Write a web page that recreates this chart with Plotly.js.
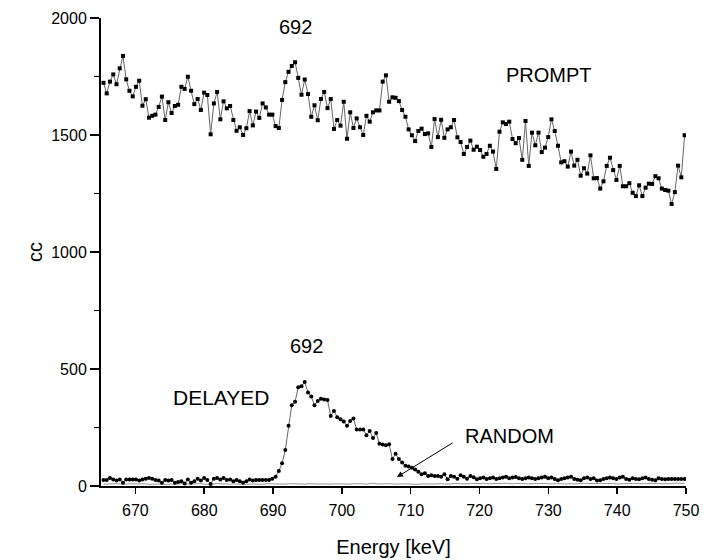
<!DOCTYPE html>
<html>
<head>
<meta charset="utf-8">
<script src="https://cdn.plot.ly/plotly-3.0.1.min.js"></script>
<style>html,body{margin:0;padding:0;background:#fff;}#chart{width:711px;height:560px;}</style>
</head>
<body>
<div id="chart"></div>
<script>
const energy = [
665.36,665.83,666.30,666.78,667.25,667.72,668.19,668.66,669.13,669.61,
670.08,670.55,671.02,671.50,671.97,672.44,672.91,673.38,673.85,674.33,
674.79,675.26,675.73,676.21,676.68,677.15,677.62,678.09,678.56,679.04,
679.51,679.98,680.45,680.93,681.40,681.87,682.34,682.81,683.28,683.76,
684.23,684.70,685.17,685.65,686.12,686.59,687.06,687.53,688.00,688.48,
688.95,689.42,689.89,690.37,690.84,691.31,691.78,692.25,692.72,693.20,
693.66,694.13,694.60,695.08,695.55,696.02,696.49,696.96,697.43,697.91,
698.38,698.85,699.32,699.80,700.27,700.74,701.21,701.68,702.15,702.63,
703.10,703.57,704.04,704.52,704.99,705.46,705.93,706.40,706.87,707.35,
707.81,708.28,708.75,709.23,709.70,710.17,710.64,711.11,711.58,712.06,
712.53,713.00,713.47,713.95,714.42,714.89,715.36,715.83,716.30,716.78,
717.25,717.72,718.19,718.67,719.14,719.61,720.08,720.55,721.02,721.50,
721.96,722.43,722.90,723.38,723.85,724.32,724.79,725.26,725.73,726.21,
726.68,727.15,727.62,728.10,728.57,729.04,729.51,729.98,730.45,730.93,
731.40,731.87,732.34,732.82,733.29,733.76,734.23,734.70,735.17,735.65,
736.12,736.59,737.06,737.54,738.01,738.48,738.95,739.42,739.89,740.37,
740.83,741.30,741.77,742.25,742.72,743.19,743.66,744.13,744.60,745.08,
745.55,746.02,746.49,746.97,747.44,747.91,748.38,748.85,749.32,749.80
];

const prompt = [
1723,1678,1728,1759,1717,1785,1838,1738,1689,1665,
1706,1732,1625,1653,1574,1582,1587,1620,1664,1564,
1640,1594,1624,1629,1706,1697,1749,1689,1632,1654,
1607,1681,1671,1503,1635,1684,1567,1644,1614,1624,
1564,1518,1533,1500,1529,1602,1541,1600,1573,1635,
1618,1587,1587,1538,1530,1650,1726,1770,1795,1811,
1744,1672,1737,1675,1578,1627,1563,1654,1684,1615,
1654,1526,1564,1540,1642,1484,1597,1530,1571,1533,
1500,1582,1557,1597,1605,1605,1728,1755,1642,1661,
1659,1645,1607,1578,1524,1499,1474,1517,1527,1504,
1507,1449,1568,1491,1565,1488,1524,1533,1564,1490,
1470,1419,1449,1476,1437,1450,1436,1407,1419,1454,
1429,1355,1514,1554,1547,1557,1483,1465,1487,1394,
1560,1368,1510,1456,1510,1427,1446,1491,1567,1517,
1454,1383,1388,1365,1429,1369,1394,1326,1358,1335,
1413,1315,1316,1271,1302,1368,1403,1350,1308,1368,
1281,1281,1294,1253,1239,1285,1239,1275,1292,1291,
1324,1315,1271,1265,1262,1205,1256,1369,1319,1499
];

const delayed = [
26,26,34,28,23,28,14,28,28,28,
28,23,28,31,34,31,26,23,14,26,
23,26,14,17,20,11,28,14,20,31,
23,34,26,9,31,34,28,34,26,28,
20,26,20,14,20,28,23,26,26,26,
26,26,31,40,64,97,154,258,345,360,
422,426,444,400,382,345,363,373,370,367,
299,321,294,285,276,258,278,288,241,241,
241,217,235,205,226,181,177,174,178,115,
138,115,100,87,83,78,71,61,50,54,
43,46,43,43,40,50,29,43,40,31,
46,40,31,43,37,29,33,36,30,33,
36,30,33,36,39,33,36,38,33,30,
33,36,33,30,33,36,39,33,36,30,
25,30,33,36,39,30,27,25,33,36,
30,33,23,25,30,33,36,33,30,36,
39,30,27,33,30,29,33,36,30,27,
25,33,30,29,30,30,30,30,30,30
];

const random = [
8,9,7,8,10,9,7,8,9,8, 7,9,10,8,7,8,9,10,8,7,
9,8,7,9,10,8,9,7,8,9, 10,8,7,8,9,11,9,8,7,8,
9,8,10,9,7,8,9,8,7,9, 8,10,9,8,7,9,8,10,9,8,
7,9,8,10,9,11,9,8,9,7, 8,9,10,8,9,8,7,9,10,8,
9,8,10,12,9,8,9,10,8,9, 8,7,9,10,8,9,7,8,10,9,
8,9,7,8,10,9,8,9,11,9, 10,9,8,10,11,9,10,12,10,9,
11,10,9,11,12,10,9,11,10,12, 11,9,10,11,12,10,11,9,10,11,
12,10,9,11,10,9,11,10,12,11, 10,11,9,10,11,12,10,11,9,10,
11,10,12,11,10,9,11,10,11,12, 10,11,10,9,11,10,12,11,10,11
];

const labels = {
  promptPeak: '692', prompt: 'PROMPT', delayedPeak: '692', delayed: 'DELAYED', random: 'RANDOM'
};

const FONT = 'Liberation Sans, Arial, sans-serif';

const traces = [
  {x: energy, y: random, type: 'scatter', mode: 'lines',
   line: {color: '#999999', width: 1}, hoverinfo: 'skip'},
  {x: energy, y: prompt, type: 'scatter', mode: 'lines+markers',
   line: {color: '#666666', width: 1},
   marker: {symbol: 'square', size: 4, color: '#000'}},
  {x: energy, y: delayed, type: 'scatter', mode: 'lines+markers',
   line: {color: '#666666', width: 1},
   marker: {symbol: 'circle', size: 4, color: '#000'}}
];

const layout = {
  width: 711, height: 560,
  margin: {l: 101, r: 25, t: 18, b: 74},
  paper_bgcolor: '#fff', plot_bgcolor: '#fff',
  showlegend: false,
  font: {family: FONT, color: '#000', size: 16},
  xaxis: {
    range: [665, 750], tickvals: [670,680,690,700,710,720,730,740,750],
    ticks: 'outside', ticklen: 6, tickwidth: 1.5, tickcolor: '#000',
    ticklabelstandoff: 3,
    showline: true, linecolor: '#000', linewidth: 2,
    showgrid: false, zeroline: false,
    tickfont: {family: FONT, size: 16, color: '#000'},
    title: {text: 'Energy [keV]', font: {family: FONT, size: 20, color: '#000'}, standoff: 22}
  },
  yaxis: {
    range: [0, 2000], tickvals: [0,500,1000,1500,2000],
    ticks: 'outside', ticklen: 9, tickwidth: 1.5, tickcolor: '#000',
    minor: {dtick: 250, ticks: 'outside', ticklen: 5, tickwidth: 1.5, tickcolor: '#000', showgrid: false},
    showline: true, linecolor: '#000', linewidth: 2,
    showgrid: false, zeroline: false,
    tickfont: {family: FONT, size: 16, color: '#000'},
    title: {text: 'cc', font: {family: FONT, size: 20, color: '#000'}, standoff: 3}
  },
  annotations: [
    {x: 693.2, y: 1961, xref: 'x', yref: 'y', text: labels.promptPeak, showarrow: false, font: {size: 20}},
    {x: 730.1, y: 1756, xref: 'x', yref: 'y', text: labels.prompt, showarrow: false, font: {size: 20}},
    {x: 694.9, y: 598, xref: 'x', yref: 'y', text: labels.delayedPeak, showarrow: false, font: {size: 20}},
    {x: 682.5, y: 380, xref: 'x', yref: 'y', text: labels.delayed, showarrow: false, font: {size: 21}},
    {x: 724.4, y: 214, xref: 'x', yref: 'y', text: labels.random, showarrow: false, font: {size: 20}},
    {x: 708.0, y: 38, ax: 716.3, ay: 188, xref: 'x', yref: 'y', axref: 'x', ayref: 'y',
     text: '', showarrow: true, arrowhead: 2, arrowsize: 1.2, arrowwidth: 1, arrowcolor: '#000'}
  ]
};

Plotly.newPlot('chart', traces, layout, {displayModeBar: false, staticPlot: true});
</script>
</body>
</html>
